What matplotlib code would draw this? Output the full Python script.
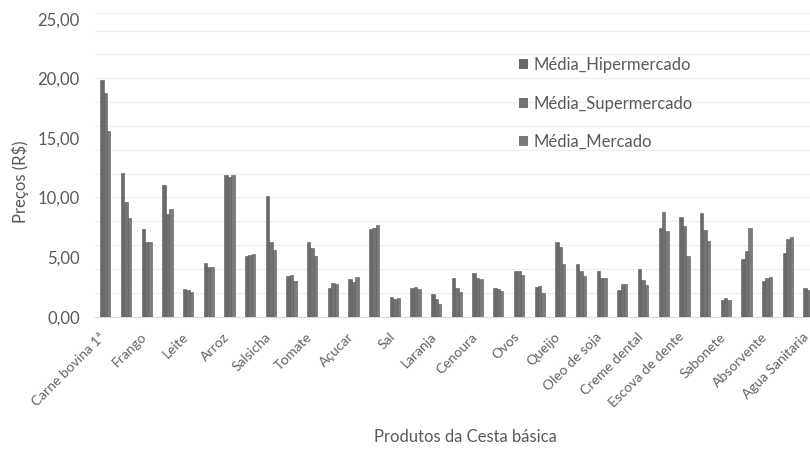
import numpy as np
import matplotlib.pyplot as plt
from matplotlib.patches import Patch

plt.rcParams['font.family'] = ['Lato', 'DejaVu Sans']

# only every second category is labelled in the original chart
labels = ['Carne bovina 1ª', 'Frango', 'Leite', 'Arroz', 'Salsicha', 'Tomate',
          'Açucar', 'Sal', 'Laranja', 'Cenoura', 'Ovos', 'Queijo', 'Oleo de soja',
          'Creme dental', 'Escova de dente', 'Sabonete', 'Absorvente', 'Agua Sanitaria']

hiper = [19.86, 12.03, 7.33, 11.02, 2.35, 4.48, 11.86, 5.09, 10.15, 3.41, 6.29, 2.38,
         3.14, 7.36, 1.65, 2.38, 1.88, 3.22, 3.69, 2.41, 3.83, 2.47, 6.24, 4.45, 3.83,
         2.27, 3.98, 7.42, 8.34, 8.67, 1.40, 4.84, 3.02, 5.37, 2.38]
super_ = [18.74, 9.60, 6.29, 8.59, 2.24, 4.14, 11.69, 5.18, 6.29, 3.50, 5.74, 2.85,
          2.89, 7.42, 1.48, 2.52, 1.46, 2.43, 3.27, 2.32, 3.83, 2.58, 5.82, 3.83, 3.27,
          2.72, 3.08, 8.76, 7.61, 7.27, 1.54, 5.54, 3.22, 6.49, 2.24]
mercado = [15.58, 8.31, 6.29, 9.06, 2.10, 4.14, 11.86, 5.23, 5.60, 3.02, 5.09, 2.72,
           3.36, 7.69, 1.54, 2.35, 1.09, 2.07, 3.14, 2.16, 3.50, 2.01, 4.42, 3.44, 3.27,
           2.72, 2.66, 7.19, 5.12, 6.38, 1.40, 7.42, 3.36, 6.71, 2.20]

series = ['Média_Hipermercado', 'Média_Supermercado', 'Média_Mercado']
colors = ['#6a6a6a', '#727272', '#7b7b7b']
txt = '#595959'

fig = plt.figure(figsize=(8.1, 4.54), dpi=100)
ax = fig.add_axes([0.1173, 0.3024, 0.8936, 0.6696])

x = np.arange(len(hiper))
w = 0.165
for i, (vals, c) in enumerate(zip([hiper, super_, mercado], colors)):
    ax.bar(x + (i - 1) * w, vals, w, color=c, edgecolor='#5a5a5a', linewidth=0.4, zorder=3)

ax.set_xlim(-0.5, len(hiper) - 0.5)
ax.set_ylim(0, 25.5)
yt = np.arange(0, 26, 5)
ax.set_yticks(yt)
ax.set_yticklabels([('%.2f' % v).replace('.', ',') for v in yt])
for g in np.arange(2, 25, 2):
    ax.axhline(g, color='#eeeeee', lw=0.9, zorder=0)

# ticks are invisible; nudge the label anchors a little left so the last one fits
ax.set_xticks(x[::2] - 0.3)
ax.set_xticklabels(labels, rotation=45, ha='right', va='top', rotation_mode='anchor',
                   fontsize=10, color='#636363')
ax.tick_params(axis='y', length=0, pad=11, labelsize=12, labelcolor=txt)
ax.tick_params(axis='x', length=0, pad=10)

for s in ['left', 'right']:
    ax.spines[s].set_visible(False)
ax.spines['top'].set_color('#eeeeee')
ax.spines['bottom'].set_color('#d9d9d9')

fig.text(0.025, 0.6, 'Preços (R$)', rotation=90, ha='center', va='center', fontsize=12, color=txt)
fig.text(0.575, 0.038, 'Produtos da Cesta básica', ha='center', va='center', fontsize=12, color=txt)

handles = [Patch(facecolor=c, edgecolor='none') for c in colors]
lgd = fig.legend(handles, series, loc='upper left', bbox_to_anchor=(0.622, 0.907),
                 frameon=False, fontsize=12, labelspacing=1.35, handlelength=0.55,
                 handleheight=0.55, handletextpad=0.35, labelcolor=txt)

plt.savefig('out.png', dpi=100)
